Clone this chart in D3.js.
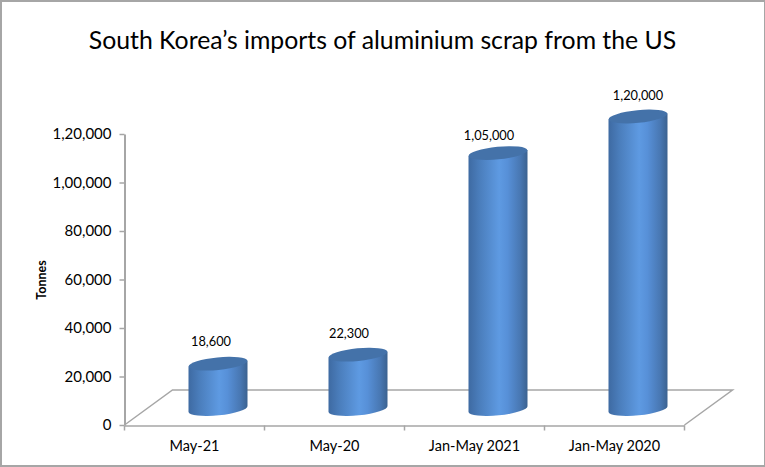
<!DOCTYPE html>
<html><head><meta charset="utf-8">
<script src="https://cdn.jsdelivr.net/npm/d3@7/dist/d3.min.js"></script>
<style>
html,body{margin:0;padding:0;background:#fff}
svg{display:block}
text{font-family:Lato,"Open Sans",sans-serif;fill:#000}
</style></head><body>
<svg id="c" width="765" height="467"></svg>
<script>
const categories = ["May-21","May-20","Jan-May 2021","Jan-May 2020"];
const tonnes = [18600,22300,105000,120000];
const valueLabels = ["18,600","22,300","1,05,000","1,20,000"];
const yTicks = [0,20000,40000,60000,80000,100000,120000];
const yTickLabels = ["0","20,000","40,000","60,000","80,000","1,00,000","1,20,000"];
const titleText = "South Korea\u2019s imports of aluminium scrap from the US";
const yTitle = "Tonnes";

const svg = d3.select("#c");
const W=765,H=467, axisGrey="#a6a6a6";
svg.append("rect").attr("x",1).attr("y",1).attr("width",W-1).attr("height",H-2)
  .attr("fill","#fff").attr("stroke",axisGrey).attr("stroke-width",2);

const x = d3.scaleBand().domain(categories).range([124.5,684.5]);
const y = d3.scaleLinear().domain([0,120000]).range([425,134]);
const depthX=48, depthY=35;      // floor depth of the 3-D box
const barShiftX=24, barBaseY=409, barTopY=116.5;
const yBar = d3.scaleLinear().domain([0,120000]).range([barBaseY,barTopY]);

const defs = svg.append("defs");
const g = defs.append("linearGradient").attr("id","cyl").attr("x1",0).attr("x2",1).attr("y1",0).attr("y2",0);
[[0,"#3e6aa2"],[0.18,"#4a7dbb"],[0.52,"#5e9ae2"],[0.66,"#5790d8"],[0.88,"#4877b2"],[1,"#3b6290"]]
 .forEach(d=>g.append("stop").attr("offset",d[0]).attr("stop-color",d[1]));

// floor
svg.append("path")
  .attr("d",`M${x.range()[0]},${y(0)}L${x.range()[0]+depthX},${y(0)-depthY}L${x.range()[1]+depthX},${y(0)-depthY}L${x.range()[1]},${y(0)}`)
  .attr("fill","#fff").attr("stroke",axisGrey).attr("stroke-width",1.5);

// axes
const yAxis = d3.axisLeft(y).tickValues(yTicks).tickFormat((d,i)=>yTickLabels[i]).tickSize(5).tickSizeOuter(0).tickPadding(8);
const ya = svg.append("g").attr("transform","translate(124.5,0)").call(yAxis);
const xa = svg.append("g").attr("transform",`translate(0,${y(0)+0.5})`)
  .call(d3.axisBottom(x).tickSize(0).tickPadding(15));
xa.selectAll(".tick line").remove();
// category separators
const edges = categories.map(c=>x(c)).concat(x.range()[1]);
xa.selectAll("line.sep").data(edges).join("line").attr("class","sep")
  .attr("x1",d=>d).attr("x2",d=>d).attr("y1",0).attr("y2",5).attr("stroke",axisGrey).attr("stroke-width",1.5);
[ya,xa].forEach(a=>{
  a.selectAll(".domain,.tick line").attr("stroke",axisGrey).attr("stroke-width",2);
  a.selectAll("text").attr("font-family",null).style("fill","#000");
  a.attr("font-family",null);
});
ya.selectAll("text").attr("font-size",15);
xa.selectAll("text").attr("font-size",14.5);
xa.select(".domain").attr("stroke-width",1.5);
ya.selectAll(".tick line").attr("stroke-width",1.5);

// cylinders
const rx=29.5, ry=6.3, tiltDeg=-5.7, dy=3;
const bars = svg.append("g").selectAll("g").data(tonnes).join("g");
const cx = (d,i)=>x(categories[i])+x.bandwidth()/2+barShiftX-0.5;
bars.append("path").attr("fill","url(#cyl)").attr("d",(d,i)=>{
  const c=cx(d,i), t=yBar(d), b=barBaseY;
  return `M${c-rx},${t+dy}L${c-rx},${b+dy}A${rx},${ry} ${tiltDeg} 0 0 ${c+rx},${b-dy}L${c+rx},${t-dy}Z`;
});
bars.append("ellipse").attr("fill","#4472a9")
  .attr("rx",rx).attr("ry",ry)
  .attr("transform",(d,i)=>`translate(${cx(d,i)},${yBar(d)}) rotate(${tiltDeg})`);

// value labels (hand-placed in the source chart)
const nudgeX=[-7,-9,-9,0], nudgeY=[-22,-21,-18,-21];
svg.append("g").selectAll("text").data(tonnes).join("text")
  .attr("x",(d,i)=>cx(d,i)+nudgeX[i]).attr("y",(d,i)=>yBar(d)+nudgeY[i])
  .attr("dy","0.35em").attr("text-anchor","middle").attr("font-size",12.8)
  .text((d,i)=>valueLabels[i]);

svg.append("text").attr("x",382.5).attr("y",48.5).attr("text-anchor","middle")
  .attr("font-size",24.8).text(titleText);
svg.append("text").attr("transform","translate(42,280) rotate(-90)").attr("dy","0.35em")
  .attr("text-anchor","middle").attr("font-size",12.5).attr("font-weight","700").text(yTitle);
</script></body></html>
